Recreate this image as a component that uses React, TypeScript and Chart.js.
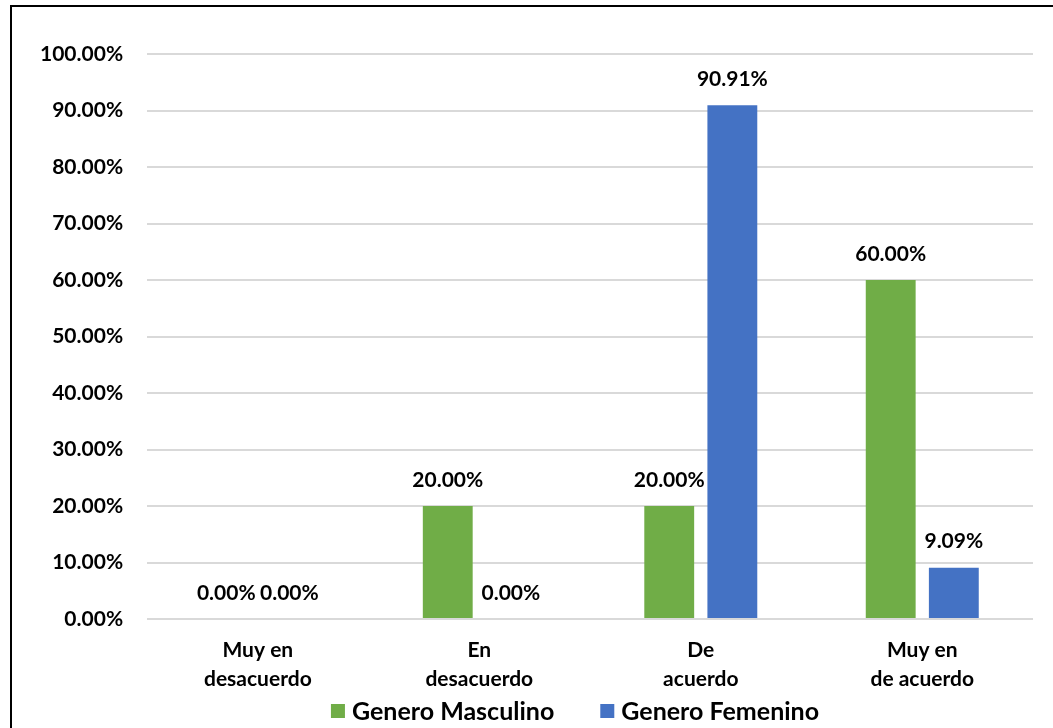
import React, { useEffect, useRef } from "react";
import { Chart, registerables } from "chart.js";

Chart.register(...registerables);

const categories: string[][] = [
  ["Muy en", "desacuerdo"],
  ["En", "desacuerdo"],
  ["De", "acuerdo"],
  ["Muy en", "de acuerdo"],
];
const masculino: number[] = [0, 0.2, 0.2, 0.6];
const femenino: number[] = [0, 0, 0.9091, 0.0909];
const seriesNames: string[] = ["Genero Masculino", "Genero Femenino"];
const seriesColors: string[] = ["#70ad47", "#4472c4"];
const yTicks: number[] = [0, 0.1, 0.2, 0.3, 0.4, 0.5, 0.6, 0.7, 0.8, 0.9, 1.0];

const FONT = "Lato, 'Open Sans', sans-serif";
const fmt = (v: number) => (v * 100).toFixed(2) + "%";

const labelPlugin = {
  id: "valueLabels",
  afterDatasetsDraw(chart: any) {
    const ctx = chart.ctx;
    ctx.save();
    ctx.font = `bold 21px ${FONT}`;
    ctx.fillStyle = "#000";
    ctx.textAlign = "center";
    ctx.textBaseline = "middle";
    chart.data.datasets.forEach((ds: any, i: number) => {
      const meta = chart.getDatasetMeta(i);
      meta.data.forEach((bar: any, j: number) => {
        ctx.fillText(fmt(ds.data[j]), bar.x, bar.y - 26);
      });
    });
    ctx.restore();
  },
};

const legendPlugin = {
  id: "customLegend",
  afterDraw(chart: any) {
    const ctx = chart.ctx;
    ctx.save();
    ctx.font = `bold 25px ${FONT}`;
    ctx.textBaseline = "middle";
    ctx.textAlign = "left";
    const box = 14;
    const gapText = 7;
    const gapItem = 46;
    const ds = chart.data.datasets;
    const widths = ds.map((d: any) => box + gapText + ctx.measureText(d.label).width);
    const total = widths.reduce((a: number, b: number) => a + b, 0) + gapItem * (ds.length - 1);
    let x = 575 - total / 2;
    const cy = 711;
    ds.forEach((d: any, i: number) => {
      ctx.fillStyle = d.backgroundColor;
      ctx.fillRect(x, cy - box / 2, box, box);
      ctx.fillStyle = "#000";
      ctx.fillText(d.label, x + box + gapText, cy + 1);
      x += widths[i] + gapItem;
    });
    ctx.restore();
  },
};

const framePlugin = {
  id: "frame",
  beforeDraw(chart: any) {
    const ctx = chart.ctx;
    ctx.save();
    ctx.fillStyle = "#fff";
    ctx.fillRect(0, 0, chart.width, chart.height);
    ctx.strokeStyle = "#000";
    ctx.lineWidth = 2;
    ctx.beginPath();
    ctx.moveTo(11, chart.height);
    ctx.lineTo(11, 6);
    ctx.lineTo(chart.width, 6);
    ctx.stroke();
    ctx.restore();
  },
};

export default function App() {
  const ref = useRef<HTMLCanvasElement | null>(null);
  useEffect(() => {
    if (!ref.current) return;
    const chart = new Chart(ref.current, {
      type: "bar",
      data: {
        labels: categories,
        datasets: seriesNames.map((name, i) => ({
          label: name,
          data: i === 0 ? masculino : femenino,
          backgroundColor: seriesColors[i],
          categoryPercentage: 0.57,
          barPercentage: 0.79,
        })),
      },
      options: {
        animation: false,
        responsive: false,
        maintainAspectRatio: false,
        layout: { padding: { left: 16, right: 20, top: 54, bottom: 17 } },
        plugins: {
          legend: { display: false },
          tooltip: { enabled: false },
        },
        scales: {
          x: {
            grid: { display: false, drawTicks: false },
            border: { display: false },
            ticks: {
              color: "#000",
              font: { family: FONT, size: 21, weight: "bold", lineHeight: 1.38 },
              padding: 17,
              maxRotation: 0,
            },
          },
          y: {
            min: 0,
            max: 1,
            afterBuildTicks(axis: any) {
              axis.ticks = yTicks.map((v) => ({ value: v }));
            },
            grid: { color: "#d9d9d9", lineWidth: 2, drawTicks: false },
            border: { display: false },
            ticks: {
              color: "#000",
              font: { family: FONT, size: 21, weight: "bold" },
              padding: 24,
              callback: (v: any) => fmt(Number(v)),
            },
          },
        },
      },
      plugins: [framePlugin, labelPlugin, legendPlugin],
    });
    return () => chart.destroy();
  }, []);
  return (
    <div style={{ position: "absolute", left: 0, top: 0, width: 1053, height: 728 }}>
      <canvas ref={ref} width={1053} height={728} style={{ display: "block" }} />
    </div>
  );
}
